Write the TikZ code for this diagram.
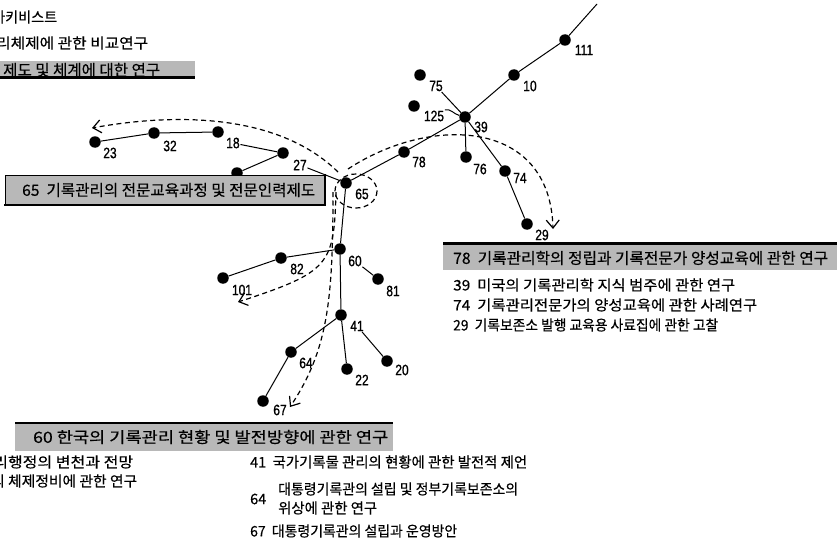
\documentclass[tikz,border=0pt]{standalone}
\usepackage{fontspec}
\usepackage{graphicx}
\setmainfont{Noto Sans CJK KR}
\newfontfamily\krfont[FakeBold=0.4]{Noto Sans CJK KR}
\newfontfamily\numfont[FakeStretch=0.8,FakeBold=1]{Liberation Sans}
\usetikzlibrary{arrows.meta}
\definecolor{boxgray}{gray}{0.72}
\newcommand{\fitw}[2]{\resizebox{#1}{\height}{#2}}
\newcommand{\gap}{\hspace{0.45em}}
\tikzset{
  dot/.style={circle, fill=black, inner sep=0pt, minimum size=11.5pt},
  num/.style={inner sep=0.6pt, font=\numfont\fontsize{15}{15}\selectfont},
  edge/.style={line width=1pt},
  flow/.style={line width=1.2pt, dash pattern=on 5pt off 3.5pt, -{Straight Barb[length=8pt,width=13pt,line width=1.2pt]}},
  ring/.style={line width=1.2pt, dash pattern=on 5pt off 3.5pt},
  listtxt/.style={anchor=west, inner sep=0pt, font=\krfont\fontsize{14.5}{14.5}\selectfont},
  boxtxt/.style={anchor=west, inner sep=0pt, font=\krfont\fontsize{15.5}{15.5}\selectfont},
  rule/.style={line width=2.2pt}
}
\begin{document}
\begin{tikzpicture}[x=1pt,y=-1pt]
\useasboundingbox (0,0) rectangle (839,543);

% ---- dots ----
\node[dot] (n111) at (565,40) {};
\node[dot] (n10) at (514,75) {};
\node[dot] (n75) at (420,75) {};
\node[dot] (n125) at (414,106) {};
\node[dot] (n39) at (465,117) {};
\node[dot] (n78) at (404,152) {};
\node[dot] (n76) at (466,157) {};
\node[dot] (n74) at (505,171) {};
\node[dot] (n29) at (527,224) {};
\node[dot] (n65) at (346,183) {};
\node[dot] (n27) at (283,153) {};
\node[dot] (n18) at (218,132) {};
\node[dot] (n32) at (154,133) {};
\node[dot] (n23) at (95,142) {};
\node[dot] (nh) at (237,173) {};
\node[dot] (n60) at (340,249) {};
\node[dot] (n82) at (281,258) {};
\node[dot] (n101) at (223,278) {};
\node[dot] (n81) at (378,279) {};
\node[dot] (n41) at (341,315) {};
\node[dot] (n64) at (291,352) {};
\node[dot] (n22) at (347,369) {};
\node[dot] (n20) at (387,361) {};
\node[dot] (n67) at (263,401) {};

% ---- number labels ----
\node[num] (l111) at (584,50) {111};
\node[num] (l10) at (530,86) {10};
\node[num] (l75) at (436,86) {75};
\node[num] (l125) at (434,116) {125};
\node[num] (l39) at (481,127) {39};
\node[num] (l78) at (419,162) {78};
\node[num] (l76) at (480,169) {76};
\node[num] (l74) at (520,178) {74};
\node[num] (l29) at (542,235) {29};
\node[num] (l65) at (362,194) {65};
\node[num] (l27) at (300,165) {27};
\node[num] (l18) at (233,143) {18};
\node[num] (l32) at (170,146) {32};
\node[num] (l23) at (110,153) {23};
\node[num] (l60) at (355,261) {60};
\node[num] (l82) at (297,269) {82};
\node[num] (l101) at (242,290) {101};
\node[num] (l81) at (393,291) {81};
\node[num] (l41) at (357,326) {41};
\node[num] (l64) at (306,363) {64};
\node[num] (l22) at (362,380) {22};
\node[num] (l20) at (402,370) {20};
\node[num] (l67) at (280,410) {67};

% ---- solid connectors ----
\coordinate (top) at (597,4);
\draw[edge] (n111) -- (top);
\draw[edge] (n111) -- (n10);
\draw[edge] (n10) -- (n39);
\draw[edge] (n39) -- (n78);
\draw[edge] (n78) -- (n65);
\draw[edge] (n39) -- (l75);
\draw[edge] (l125.north east) to[out=15,in=165] (n39);
\draw[edge] (n39) -- (n76);
\draw[edge] (n39) -- (n74);
\draw[edge] (n74) -- (n29);
\draw[edge] (n65) -- (l27);
\draw[edge] (n27) -- (l18);
\draw[edge] (n18) -- (n32);
\draw[edge] (n32) -- (n23);
\draw[edge] (n27) -- (nh);
\draw[edge] (n65) -- (n60);
\draw[edge] (n60) -- (n82);
\draw[edge] (n82) -- (n101);
\draw[edge] (l60) -- (n81);
\draw[edge] (n60) -- (n41);
\draw[edge] (n41) -- (n64);
\draw[edge] (n64) -- (n67);
\draw[edge] (n41) -- (n22);
\draw[edge] (l41) -- (n20);

% ---- dashed flows ----
\coordinate (aS) at (338,172);
\coordinate (aE) at (92,128);
\draw[flow] (aS) .. controls (280,115) and (180,112) .. (aE);
\coordinate (bS) at (348,169);
\coordinate (bE) at (553,229);
\draw[flow] (bS) .. controls (430,115) and (550,118) .. (bE);
\coordinate (dS) at (336,192);
\coordinate (dE) at (238,302);
\draw[flow] (dS) .. controls (334,265) and (330,272) .. (dE);
\coordinate (eS) at (333,192);
\coordinate (eE) at (290,407);
\draw[flow] (eS) .. controls (333,300) and (328,350) .. (eE);
\draw[ring] (356,191) ellipse [x radius=21, y radius=17];

% ---- boxes ----
\fill[boxgray] (5,175) rectangle (325,205);
\draw[line width=1pt] (5,205) -- (5,175) -- (325,175);
\draw[line width=2.2pt] (4,205) -- (325,205) -- (325,174);
\node[boxtxt] (t65) at (22,190) {\fitw{293pt}{65\gap 기록관리의 전문교육과정 및 전문인력제도}};

\fill[boxgray] (443,245) rectangle (837,270);
\draw[rule] (443,243.5) -- (837,243.5);
\node[boxtxt] (t78) at (453,258) {\fitw{375pt}{78\gap 기록관리학의 정립과 기록전문가 양성교육에 관한 연구}};

\fill[boxgray] (15,424) rectangle (393,451);
\draw[rule] (15,423) -- (393,423);
\node[boxtxt] (t60) at (33,437) {\fitw{355pt}{60 한국의 기록관리 현황 및 발전방향에 관한 연구}};

\fill[boxgray] (0,61) rectangle (195,77);
\draw[rule] (0,77.5) -- (195,77.5);
\node[boxtxt] (ttl) at (3,70) {\fitw{157pt}{제도 및 체계에 대한 연구}};

% ---- text lines ----
\node[listtxt] (tl1) at (-8,17) {\fitw{65pt}{아키비스트}};
\node[listtxt] (tl2) at (-4,43) {\fitw{152pt}{리체제에 관한 비교연구}};

\node[listtxt] (r39) at (453,285) {\fitw{282pt}{39\gap 미국의 기록관리학 지식 범주에 관한 연구}};
\node[listtxt] (r74) at (453,305) {\fitw{304pt}{74\gap 기록관리전문가의 양성교육에 관한 사례연구}};
\node[listtxt] (r29) at (453,325) {\fitw{265pt}{29\gap 기록보존소 발행 교육용 사료집에 관한 고찰}};

\node[listtxt] (b1) at (-7,462) {\fitw{140pt}{리행정의 변천과 전망}};
\node[listtxt] (b2) at (-9,481) {\fitw{146pt}{의 체제정비에 관한 연구}};
\node[listtxt] (b41) at (250,462) {\fitw{277pt}{41\gap 국가기록물 관리의 현황에 관한 발전적 제언}};
\node[listtxt] (b64) at (250,499) {64};
\node[listtxt] (b64a) at (278,489) {\fitw{240pt}{대통령기록관의 설립 및 정부기록보존소의}};
\node[listtxt] (b64b) at (278,508) {\fitw{99pt}{위상에 관한 연구}};
\node[listtxt] (b67) at (250,531) {\fitw{207pt}{67\gap 대통령기록관의 설립과 운영방안}};
\end{tikzpicture}
\end{document}
